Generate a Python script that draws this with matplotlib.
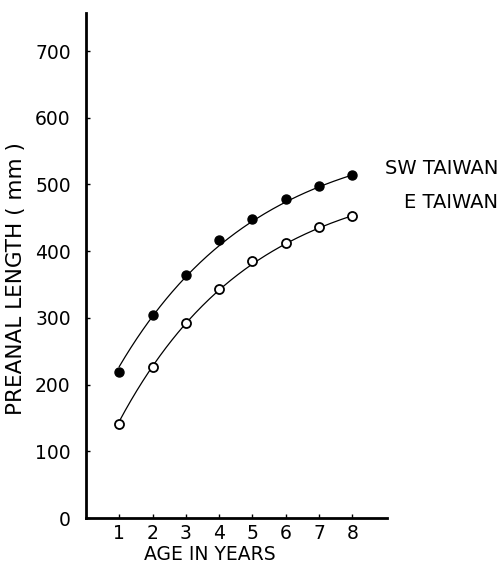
import numpy as np
import matplotlib
matplotlib.use("Agg")
import matplotlib.pyplot as plt

# Data
ages = [1, 2, 3, 4, 5, 6, 7, 8]
sw_taiwan = [219, 305, 364, 417, 448, 478, 497, 514]
e_taiwan = [141, 227, 293, 344, 385, 412, 436, 453]

# von Bertalanffy growth curves drawn through the points (parameters)
sw_linf, sw_k, sw_t0 = 580.0, 0.24, -1.07
e_linf, e_k, e_t0 = 518.0, 0.25, -0.313

yticks = [0, 100, 200, 300, 400, 500, 600, 700]
xticks = [1, 2, 3, 4, 5, 6, 7, 8]
labels = ["SW TAIWAN", "E TAIWAN"]

plt.rcParams['font.family'] = ['DejaVu Sans']

W, H = 503, 566
fig = plt.figure(figsize=(W / 100, H / 100), dpi=100)
left, right, bottom, top = 86, 387, 518, 13
ax = fig.add_axes([left / W, 1 - bottom / H, (right - left) / W, (bottom - top) / H])

t = np.linspace(1, 8, 200)
ax.plot(t, sw_linf * (1 - np.exp(-sw_k * (t - sw_t0))), color='black', lw=0.9)
ax.plot(t, e_linf * (1 - np.exp(-e_k * (t - e_t0))), color='black', lw=0.9)
ax.plot(ages, sw_taiwan, 'o', color='black', markersize=6.5, zorder=3)
ax.plot(ages, e_taiwan, 'o', markerfacecolor='white', markeredgecolor='black',
        markeredgewidth=1.3, markersize=6.5, zorder=3)

ax.set_xlim(0, 9.04)
ax.set_ylim(0, 757)
ax.set_xticks(xticks)
ax.set_yticks(yticks)
for s in ['top', 'right']:
    ax.spines[s].set_visible(False)
for s in ['left', 'bottom']:
    ax.spines[s].set_linewidth(2.0)
ax.tick_params(axis='both', direction='in', length=3, width=1, labelsize=13.5)
ax.tick_params(axis='y', pad=11)
ax.tick_params(axis='x', pad=4)

ax.set_xlabel("AGE IN YEARS", fontsize=13.5, labelpad=0)
ax.xaxis.set_label_coords(0.41, -0.054)
ax.set_ylabel("PREANAL LENGTH ( mm )", fontsize=15.5)
ax.yaxis.set_label_coords(-0.20, 0.475)

fig.text(498 / W, 1 - 168 / H, labels[0], ha='right', va='center', fontsize=14)
fig.text(498 / W, 1 - 202 / H, labels[1], ha='right', va='center', fontsize=14)

fig.savefig("out.png", dpi=100)
